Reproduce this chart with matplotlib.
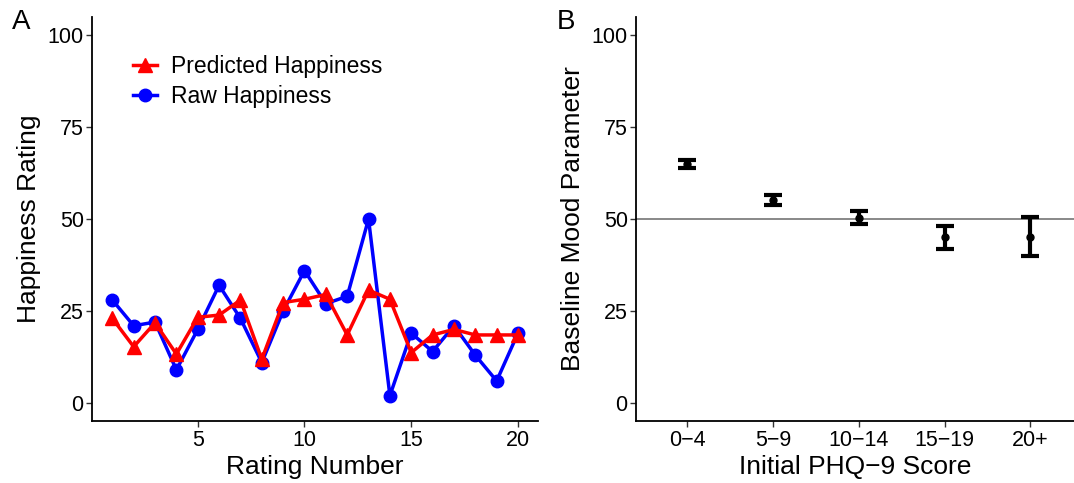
import matplotlib.pyplot as plt
import numpy as np

plt.rcParams['font.family'] = ['Liberation Sans', 'DejaVu Sans']

# ─── data ───────────────────────────────────────────────────────────────
rating_number = list(range(1, 21))
raw_happiness = [28, 21, 22, 9, 20, 32, 23, 11, 25, 36,
                 27, 29, 50, 2, 19, 14, 21, 13, 6, 19]
predicted_happiness = [23.0, 15.3, 21.8, 13.3, 23.3, 23.9, 28.0, 11.9, 27.3, 28.2,
                       29.5, 18.5, 30.7, 28.2, 13.7, 18.5, 20.0, 18.5, 18.5, 18.5]

phq_groups = ["0\u22124", "5\u22129", "10\u221214", "15\u221219", "20+"]
baseline_mood = [65.0, 55.2, 50.4, 45.0, 45.2]
baseline_err = [1.1, 1.3, 1.8, 3.2, 5.3]

TICK_FS = 15.5
TITLE_FS = 19


def style_axes(ax):
    for side in ("top", "right"):
        ax.spines[side].set_visible(False)
    for side in ("left", "bottom"):
        ax.spines[side].set_linewidth(1.3)
    ax.tick_params(length=4, width=1.0, labelsize=TICK_FS, pad=2, color="#333333")
    ax.set_ylim(-5, 105)
    ax.set_yticks([0, 25, 50, 75, 100])


fig = plt.figure(figsize=(10.74, 4.83), dpi=100)

# ─── panel A ─────────────────────────────────────────────────────────────
axA = fig.add_axes([0.0857, 0.1275, 0.4155, 0.838])
style_axes(axA)
axA.plot(rating_number, predicted_happiness, color="red", lw=2.5, marker="^",
         markersize=10, label="Predicted Happiness", zorder=3)
axA.plot(rating_number, raw_happiness, color="blue", lw=2.5, marker="o",
         markersize=9, label="Raw Happiness", zorder=2)
axA.set_xlim(0.05, 20.95)
axA.set_xticks([5, 10, 15, 20])
axA.set_xlabel("Rating Number", fontsize=TITLE_FS, labelpad=3)
axA.set_ylabel("Happiness Rating", fontsize=TITLE_FS, labelpad=5)
axA.legend(loc="upper left", bbox_to_anchor=(0.071, 0.928), frameon=False,
           fontsize=16.5, handlelength=1.05, handletextpad=0.6, labelspacing=0.3,
           borderaxespad=0)
fig.text(0.011, 0.955, "A", fontsize=20, ha="left", va="center")

# ─── panel B ─────────────────────────────────────────────────────────────
axB = fig.add_axes([0.5922, 0.1275, 0.4078, 0.838])
style_axes(axB)
xpos = np.arange(1, len(phq_groups) + 1)
axB.axhline(50, color="#888888", lw=1.4, zorder=1)
axB.errorbar(xpos, baseline_mood, yerr=baseline_err, fmt="o", color="black",
             markersize=5, elinewidth=3, capsize=6.4, capthick=3, zorder=3)
axB.set_xlim(0.4, 5.51)
axB.set_xticks(xpos)
axB.set_xticklabels(phq_groups)
axB.set_xlabel("Initial PHQ\u22129 Score", fontsize=TITLE_FS, labelpad=3)
axB.set_ylabel("Baseline Mood Parameter", fontsize=TITLE_FS, labelpad=5)
fig.text(0.518, 0.955, "B", fontsize=20, ha="left", va="center")

fig.savefig("out.png", dpi=100)
